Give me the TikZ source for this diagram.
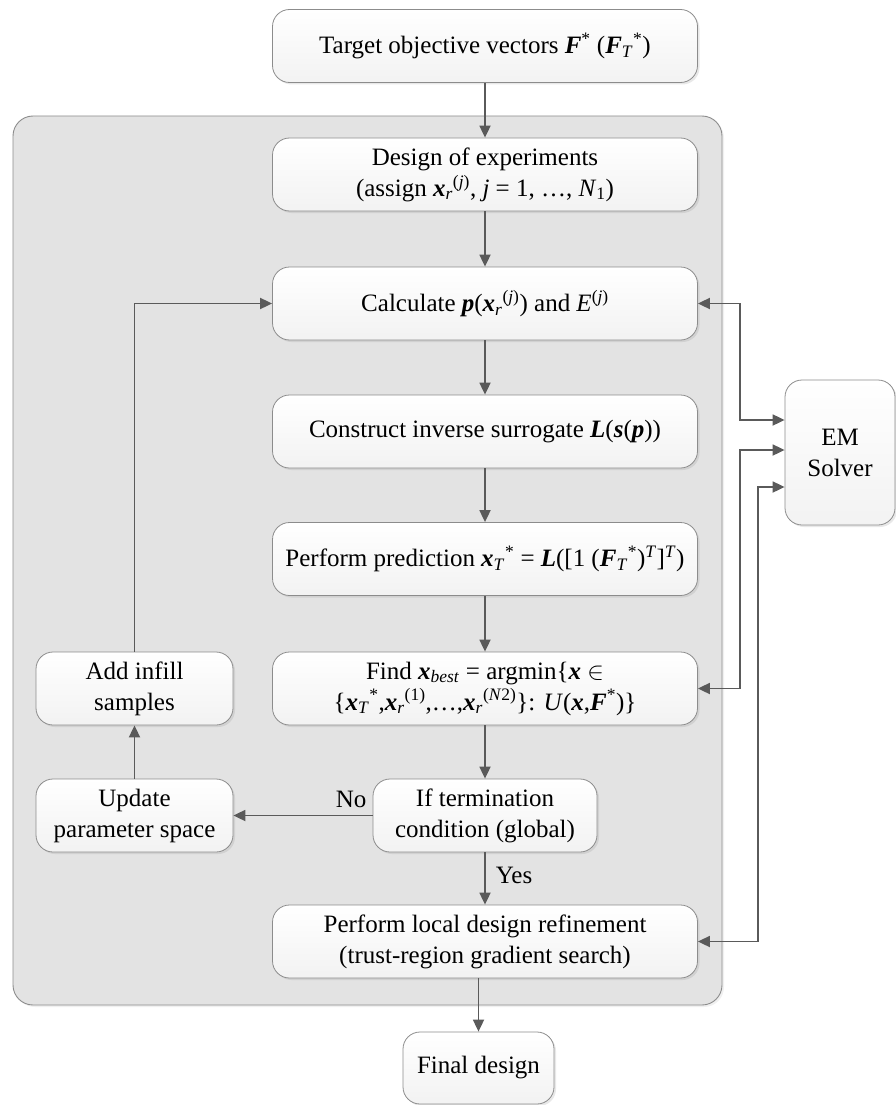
\documentclass[tikz,border=0pt]{standalone}
\usepackage{fontspec}
\setmainfont{Liberation Serif}
\usetikzlibrary{arrows.meta,shadows,calc}
\definecolor{arrowgray}{HTML}{5A5A5A}
\definecolor{panelgray}{HTML}{E3E3E3}
\definecolor{bordergray}{HTML}{8C8C8C}
\newcommand{\bv}[1]{\textbf{\textit{#1}}}
\newcommand{\ssp}[2]{\setbox0\hbox{\textsubscript{#1}}\box0\kern-0.45\wd0\textsuperscript{#2}}
\tikzset{
  boxst/.style={draw=bordergray, line width=0.8pt, rounded corners=17pt,
    top color=white, bottom color=gray!10, minimum height=73pt, inner sep=0pt,
    align=center, font=\fontsize{25}{31}\selectfont,
    drop shadow={opacity=0.18, shadow xshift=2pt, shadow yshift=-2pt}},
  mainbox/.style={boxst, minimum width=425pt},
  arr/.style={draw=arrowgray, line width=1.8pt, -{Triangle[length=12pt,width=11pt]}},
  darr/.style={draw=arrowgray, line width=1.8pt, {Triangle[length=12pt,width=11pt]}-{Triangle[length=12pt,width=11pt]}},
  lbl/.style={font=\fontsize{25}{28}\selectfont, inner sep=0pt}
}
\begin{document}
\begin{tikzpicture}[x=1pt,y=-1pt]
\useasboundingbox (0,0) rectangle (896,1105);
% panel
\path[fill=panelgray, draw=bordergray, line width=0.9pt, rounded corners=20pt,
  drop shadow={opacity=0.12, shadow xshift=2pt, shadow yshift=-2pt}]
  (13,116) rectangle (722,1005);
% main column
\node[mainbox] (target) at (485,46) {Target objective vectors \bv{F}\textsuperscript{*} (\bv{F}\ssp{\textit{T}}{*})};
\node[mainbox] (design) at (485,174.5) {Design of experiments\\(assign \bv{x}\ssp{\textit{r}}{(\textit{j})}, \textit{j} = 1, \ldots, \textit{N}\textsubscript{1})};
\node[mainbox] (calc) at (485,303.5) {Calculate \bv{p}(\bv{x}\ssp{\textit{r}}{(\textit{j})}) and \textit{E}\textsuperscript{(\textit{j})}};
\node[mainbox] (constr) at (485,431.5) {Construct inverse surrogate \bv{L}(\bv{s}(\bv{p}))};
\node[mainbox] (predict) at (485,559) {Perform prediction \bv{x}\ssp{\textit{T}}{*} = \bv{L}([1 (\bv{F}\ssp{\textit{T}}{*})\textsuperscript{\textit{T}}]\textsuperscript{\textit{T}})};
\node[mainbox] (find) at (485,688.5) {Find \bv{x}\textsubscript{\textit{best}} = argmin\{\bv{x} $\in$\\\{\bv{x}\ssp{\textit{T}}{*},\bv{x}\ssp{\textit{r}}{(1)},\ldots,\bv{x}\ssp{\textit{r}}{(\textit{N}2)}\}: \textit{U}(\bv{x},\bv{F}\textsuperscript{*})\}};
\node[boxst, minimum width=224pt] (ifterm) at (485,815.5) {If termination\\condition (global)};
\node[mainbox] (refine) at (485,941.5) {Perform local design refinement\\(trust-region gradient search)};
\node[boxst, minimum width=151pt, minimum height=72pt] (final) at (478.5,1068) {Final design};
% left column
\node[boxst, minimum width=197pt] (infill) at (134.5,688.5) {Add infill\\samples};
\node[boxst, minimum width=197pt] (update) at (134.5,815.5) {Update\\parameter space};
% EM solver
\node[boxst, minimum width=110pt, minimum height=145pt] (em) at (840,452.5) {EM\\Solver};
% connectors
\draw[arr] (target) -- (design);
\draw[arr] (design) -- (calc);
\draw[arr] (calc) -- (constr);
\draw[arr] (constr) -- (predict);
\draw[arr] (predict) -- (find);
\draw[arr] (find) -- (ifterm);
\draw[arr] (ifterm) -- node[lbl, right=10pt, pos=0.45] {Yes} (refine);
\draw[arr] (refine.south -| final.north) -- (final);
\draw[arr] (ifterm) -- (update);
\node[lbl, anchor=south east] (nolbl) at ($(ifterm.west)+(-6,-8)$) {No};
\draw[arr] (update) -- (infill);
\draw[arr] (infill.north) |- (calc.west);
% EM links
\coordinate (c1) at (740,303.5);
\coordinate (c2) at (740,688.5);
\coordinate (c3) at (758,941.5);
\draw[darr] (calc.east) -- (c1) |- ($(em.west)+(0,-32.5)$);
\draw[darr] (find.east) -- (c2) |- ($(em.west)+(0,-2.5)$);
\draw[darr] (refine.east) -- (c3) |- ($(em.west)+(0,34.5)$);
\end{tikzpicture}
\end{document}
